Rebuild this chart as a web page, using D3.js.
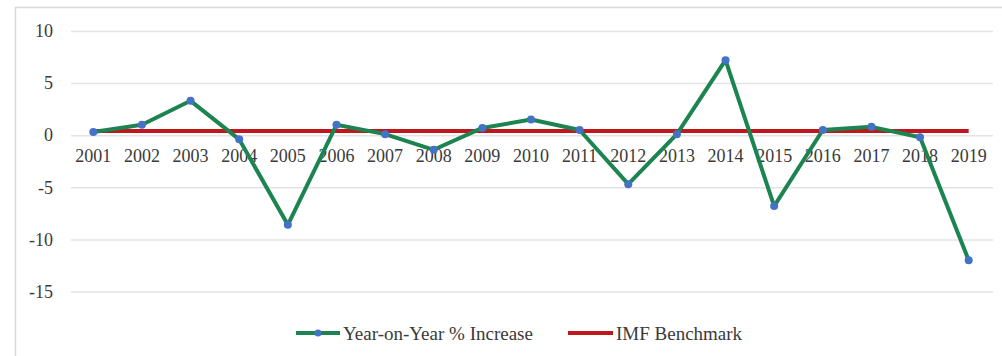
<!DOCTYPE html>
<html><head><meta charset="utf-8">
<script src="https://cdn.jsdelivr.net/npm/d3@7/dist/d3.min.js"></script>
<style>body{margin:0;background:#fff}svg{display:block}
svg text{font-family:"Liberation Serif","Times New Roman",Times,serif !important;}</style>
</head><body>
<svg id="c" width="1002" height="356"></svg>
<script>
const years = ["2001","2002","2003","2004","2005","2006","2007","2008","2009","2010","2011","2012","2013","2014","2015","2016","2017","2018","2019"];
const yoyIncrease = [0.3, 1.0, 3.3, -0.4, -8.6, 1.0, 0.1, -1.4, 0.7, 1.5, 0.5, -4.7, 0.1, 7.2, -6.8, 0.5, 0.8, -0.2, -12.0];
const imfBenchmark = [0.4,0.4,0.4,0.4,0.4,0.4,0.4,0.4,0.4,0.4,0.4,0.4,0.4,0.4,0.4,0.4,0.4,0.4,0.4];
const yTicks = [10, 5, 0, -5, -10, -15];
const seriesNames = ["Year-on-Year % Increase", "IMF Benchmark"];

const svg = d3.select("#c");
const green = "#1c8450", red = "#c0161d", blue = "#4472c4";

// chart border
svg.append("rect").attr("x",15.5).attr("y",7.5).attr("width",1000).attr("height",400)
  .attr("fill","#fff").attr("stroke","#d9d9d9").attr("stroke-width",1.5);

const x = d3.scaleBand().domain(years).range([69, 993]);
const y = d3.scaleLinear().domain([-15, 10]).range([291.5, 31]);
const cx = d => x(d) + x.bandwidth()/2;

// gridlines
const yAxis = d3.axisLeft(y).tickValues(yTicks).tickSize(-(993-71)).tickFormat(d => String(d));
const gy = svg.append("g").attr("transform","translate(71,0)").call(yAxis);
gy.select(".domain").remove();
gy.selectAll(".tick line").attr("stroke","#e3e3e3").attr("stroke-width",1.5);
gy.selectAll(".tick text").attr("x",-18).attr("font-size",18).attr("fill","#3a3a3a");

// x labels along zero line
const xAxis = d3.axisBottom(x).tickSize(0).tickPadding(0);
const gx = svg.append("g").attr("transform",`translate(0,${y(0)})`).call(xAxis);
gx.select(".domain").remove();
gx.selectAll(".tick text").attr("dy","1.05em").attr("y",8).attr("font-size",18).attr("fill","#3a3a3a");

const line = d3.line().x((d,i)=>cx(years[i])).y(d=>y(d));

// benchmark
svg.append("path").datum(imfBenchmark).attr("d",line).attr("fill","none")
  .attr("stroke",red).attr("stroke-width",4);
// yoy
svg.append("path").datum(yoyIncrease).attr("d",line).attr("fill","none")
  .attr("stroke",green).attr("stroke-width",4).attr("stroke-linejoin","round");
svg.selectAll("circle.pt").data(yoyIncrease).join("circle").attr("class","pt")
  .attr("cx",(d,i)=>cx(years[i])).attr("cy",d=>y(d)).attr("r",4).attr("fill",blue);

// legend
const ly = 333;
const leg = [{x0:296,x1:340,c:green,m:true,t:seriesNames[0]},{x0:568,x1:613,c:red,m:false,t:seriesNames[1]}];
leg.forEach(l=>{
  svg.append("line").attr("x1",l.x0).attr("x2",l.x1).attr("y1",ly).attr("y2",ly).attr("stroke",l.c).attr("stroke-width",4);
  if(l.m) svg.append("circle").attr("cx",(l.x0+l.x1)/2).attr("cy",ly).attr("r",3.5).attr("fill",blue);
  svg.append("text").attr("x",l.x1+3).attr("y",ly).attr("dy","0.35em")
    .attr("font-size",19).attr("fill","#3a3a3a").text(l.t);
});
</script>
</body></html>
